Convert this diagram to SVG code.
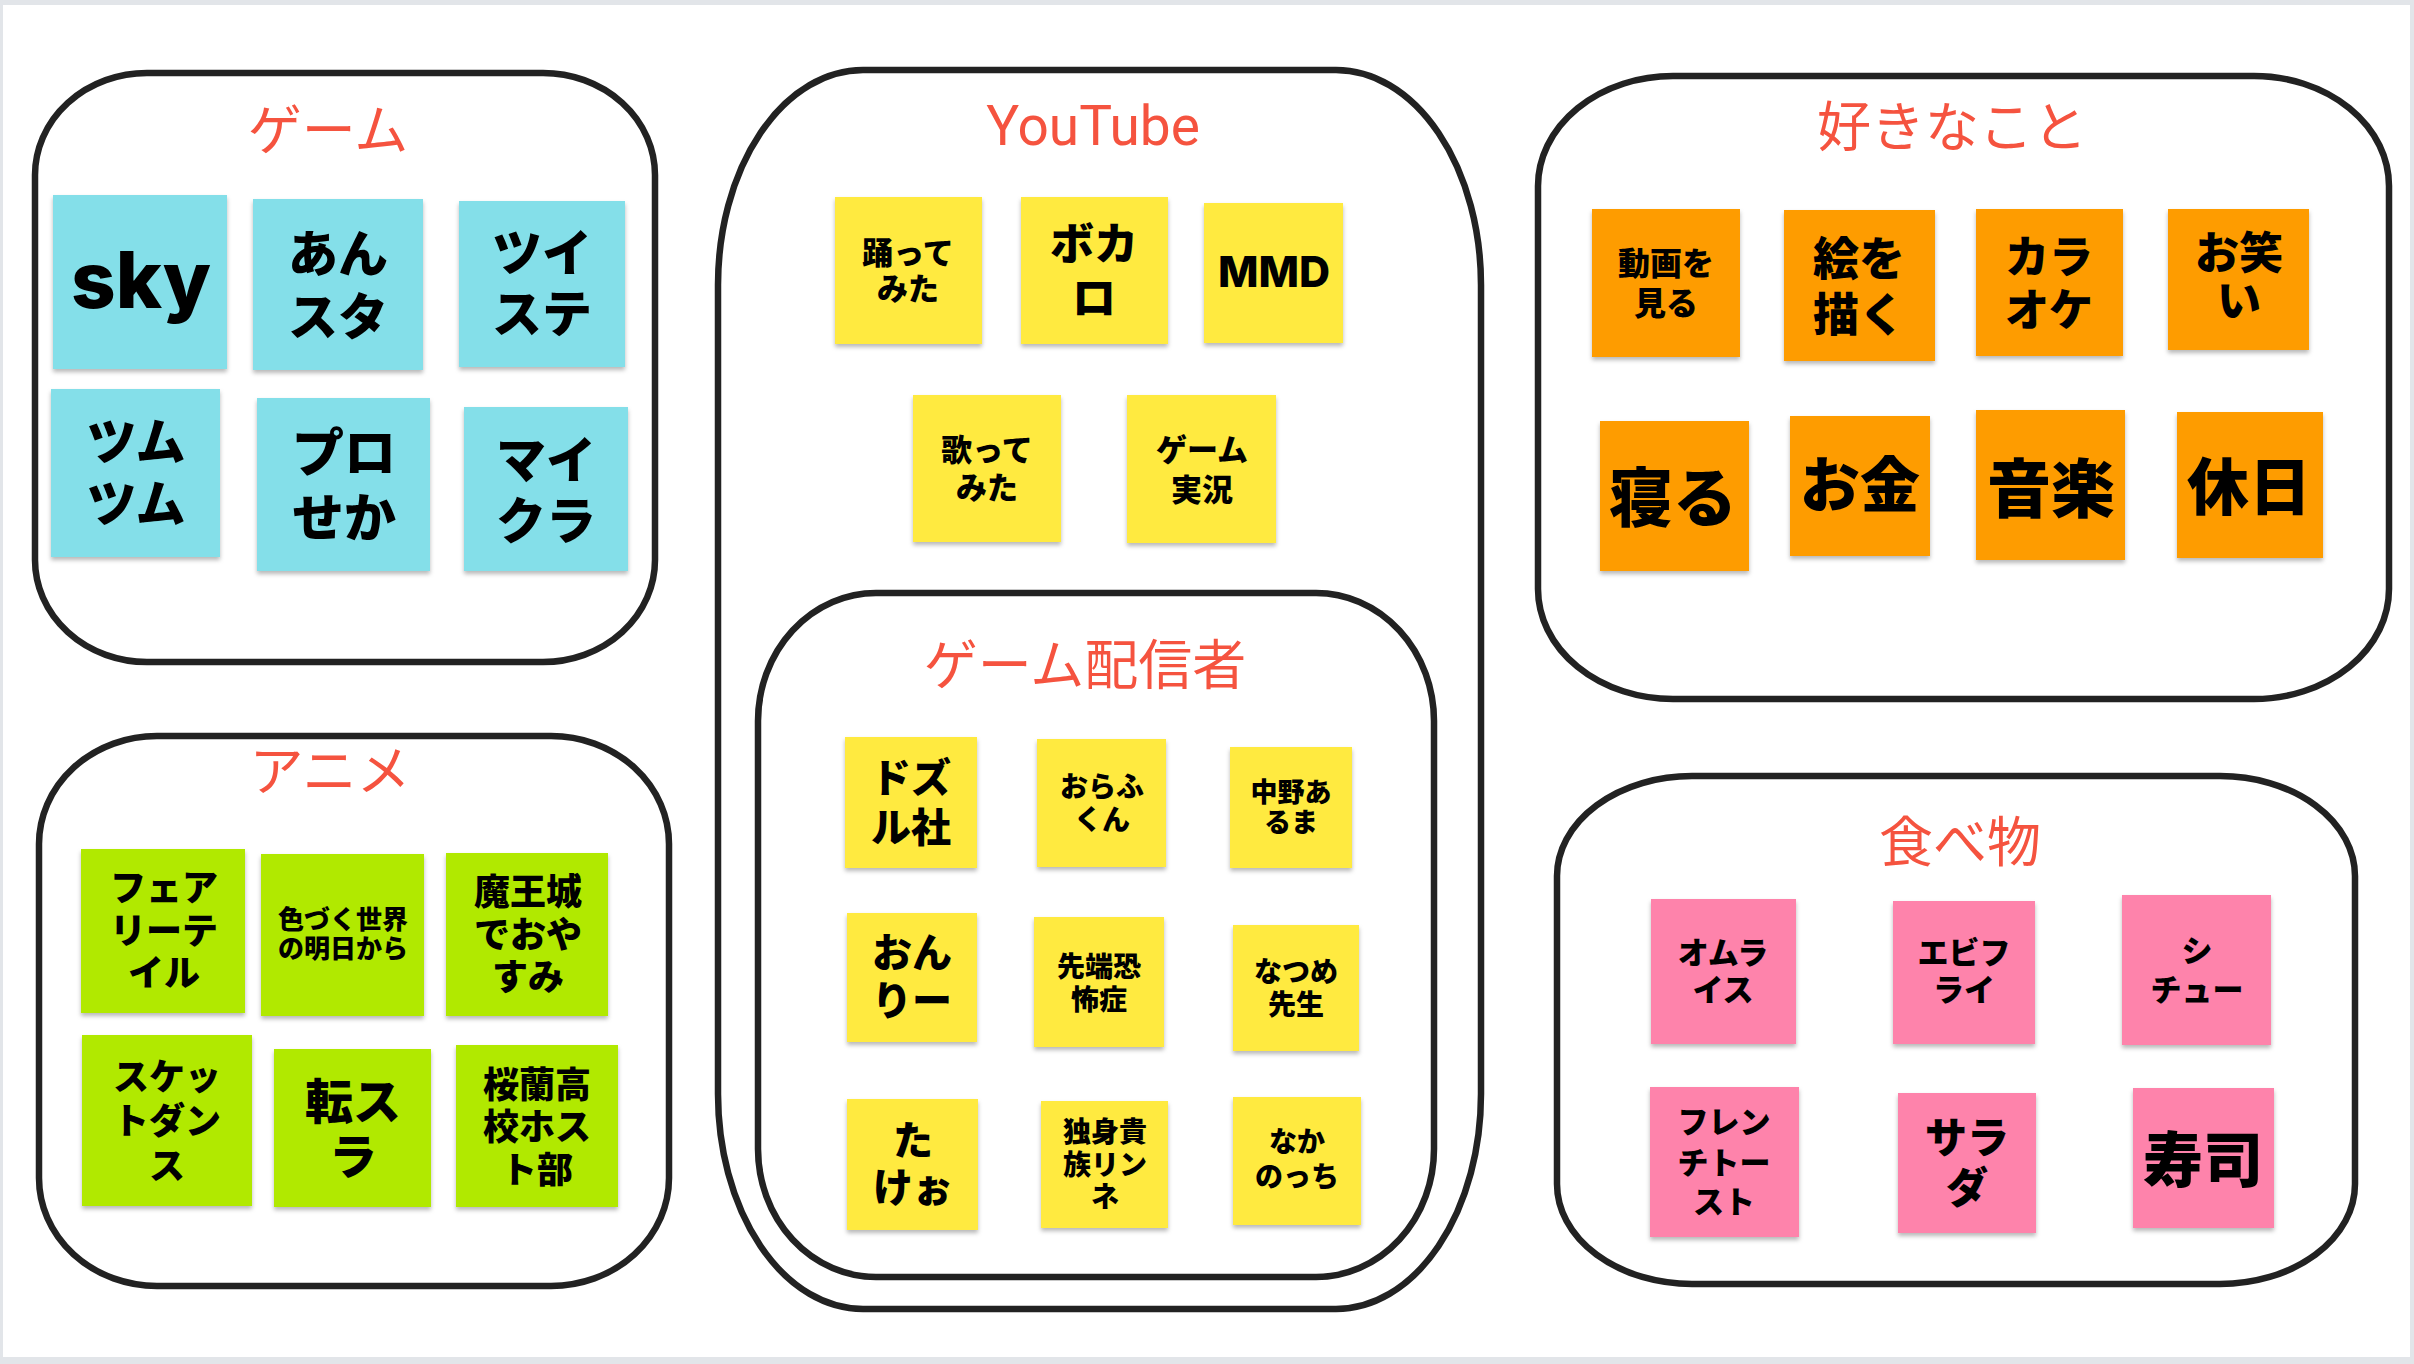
<svg xmlns="http://www.w3.org/2000/svg" width="2414" height="1364" viewBox="0 0 2414 1364">
<defs>
<filter id="sh" x="-10%" y="-10%" width="120%" height="125%">
<feDropShadow dx="0" dy="3" stdDeviation="2" flood-color="#000" flood-opacity="0.28"/>
</filter>
<style>
.box{fill:#fff;stroke:#222;stroke-width:6.5}
.ttl{font-family:"Noto Sans CJK JP","Noto Sans",sans-serif;font-weight:400;fill:#f5533f;text-anchor:middle}
.yt{font-family:Roboto,"Liberation Sans",sans-serif;font-weight:400;fill:#f5533f;text-anchor:middle}
.t{font-family:"Noto Sans CJK JP","Noto Sans",sans-serif;font-weight:900;fill:#000;text-anchor:middle}
.lat{font-family:Inter,"Liberation Sans",sans-serif;font-weight:800;fill:#000;text-anchor:middle}
.c{fill:#84dfe9;filter:url(#sh)}
.g{fill:#b1e903;filter:url(#sh)}
.y{fill:#ffea3f;filter:url(#sh)}
.o{fill:#fe9c05;filter:url(#sh)}
.p{fill:#fe83ab;filter:url(#sh)}
</style>
</defs>
<rect x="0" y="0" width="2414" height="1364" fill="#e2e5e9"/>
<rect x="3" y="5" width="2407" height="1352" fill="#fff"/>

<g id="containers">
<g id="box-game"><rect class="box" x="35" y="73" width="620" height="589" rx="112" ry="102"/><text class="ttl" x="328" y="150" font-size="54">ゲーム</text></g>
<g id="box-anime"><rect class="box" x="39" y="736" width="630" height="550" rx="118" ry="108"/><text class="ttl" x="330" y="791" font-size="54">アニメ</text></g>
<g id="box-youtube"><rect class="box" x="718" y="70" width="763" height="1239" rx="145" ry="215"/><text class="yt" x="1093" y="145" font-size="55">YouTube</text></g>
<g id="box-streamers"><rect class="box" x="758" y="593" width="676" height="684" rx="118" ry="128"/><text class="ttl" x="1085" y="685" font-size="54">ゲーム配信者</text></g>
<g id="box-hobby"><rect class="box" x="1538" y="76" width="851" height="623" rx="135" ry="110"/><text class="ttl" x="1952" y="147" font-size="54">好きなこと</text></g>
<g id="box-food"><rect class="box" x="1557" y="776" width="798" height="508" rx="135" ry="100"/><text class="ttl" x="1960" y="862" font-size="54">食べ物</text></g>
</g>

<g id="connectors"></g>

<!-- Game -->
<g id="n-sky"><rect class="c" x="53" y="195" width="174" height="174"/><text class="lat" x="141" y="308" font-size="78">sky</text></g>
<g id="n-ansuta"><rect class="c" x="253" y="199" width="170" height="171"/><text class="t" x="338" font-size="50"><tspan x="338" y="272">あん</tspan><tspan x="338" y="335">スタ</tspan></text></g>
<g id="n-twisute"><rect class="c" x="459" y="201" width="166" height="166"/><text class="t" x="542" font-size="50"><tspan x="542" y="271">ツイ</tspan><tspan x="542" y="332">ステ</tspan></text></g>
<g id="n-tsumu"><rect class="c" x="51" y="389" width="169" height="168"/><text class="t" x="136" font-size="50"><tspan x="136" y="460">ツム</tspan><tspan x="136" y="522">ツム</tspan></text></g>
<g id="n-purosekai"><rect class="c" x="257" y="398" width="173" height="173"/><text class="t" x="344" font-size="52"><tspan x="344" y="472">プロ</tspan><tspan x="344" y="537">せか</tspan></text></g>
<g id="n-maikura"><rect class="c" x="464" y="407" width="164" height="164"/><text class="t" x="546" font-size="50"><tspan x="546" y="478">マイ</tspan><tspan x="546" y="539">クラ</tspan></text></g>

<!-- Anime -->
<g id="n-fairy"><rect class="g" x="81" y="849" width="164" height="164"/><text class="t" font-size="36"><tspan x="164" y="901">フェア</tspan><tspan x="164" y="944">リーテ</tspan><tspan x="164" y="986">イル</tspan></text></g>
<g id="n-irozuku"><rect class="g" x="261" y="854" width="163" height="162"/><text class="t" font-size="26"><tspan x="343" y="929">色づく世界</tspan><tspan x="343" y="958">の明日から</tspan></text></g>
<g id="n-maou"><rect class="g" x="446" y="853" width="162" height="163"/><text class="t" font-size="36"><tspan x="528" y="905">魔王城</tspan><tspan x="528" y="948">でおや</tspan><tspan x="528" y="990">すみ</tspan></text></g>
<g id="n-sket"><rect class="g" x="82" y="1035" width="170" height="171"/><text class="t" font-size="36"><tspan x="167" y="1090">スケッ</tspan><tspan x="167" y="1134">トダン</tspan><tspan x="167" y="1179">ス</tspan></text></g>
<g id="n-tensura"><rect class="g" x="274" y="1049" width="157" height="158"/><text class="t" font-size="48"><tspan x="353" y="1119">転ス</tspan><tspan x="353" y="1174">ラ</tspan></text></g>
<g id="n-ouran"><rect class="g" x="456" y="1045" width="162" height="162"/><text class="t" font-size="36"><tspan x="537" y="1098">桜蘭高</tspan><tspan x="537" y="1140">校ホス</tspan><tspan x="537" y="1183">ト部</tspan></text></g>

<!-- YouTube -->
<g id="n-odotte"><rect class="y" x="835" y="197" width="147" height="147"/><text class="t" font-size="31"><tspan x="908" y="264">踊って</tspan><tspan x="908" y="300">みた</tspan></text></g>
<g id="n-vocalo"><rect class="y" x="1021" y="197" width="147" height="147"/><text class="t" font-size="44"><tspan x="1094" y="260">ボカ</tspan><tspan x="1094" y="314">ロ</tspan></text></g>
<g id="n-mmd"><rect class="y" x="1204" y="203" width="139" height="140"/><text class="lat" x="1274" y="287" font-size="43">MMD</text></g>
<g id="n-utatte"><rect class="y" x="913" y="395" width="148" height="147"/><text class="t" font-size="31"><tspan x="987" y="461">歌って</tspan><tspan x="987" y="499">みた</tspan></text></g>
<g id="n-jikkyo"><rect class="y" x="1127" y="395" width="149" height="148"/><text class="t" font-size="31"><tspan x="1202" y="461">ゲーム</tspan><tspan x="1202" y="501">実況</tspan></text></g>

<!-- Streamers -->
<g id="n-dozuru"><rect class="y" x="845" y="737" width="132" height="131"/><text class="t" font-size="40"><tspan x="911" y="792">ドズ</tspan><tspan x="911" y="842">ル社</tspan></text></g>
<g id="n-orafu"><rect class="y" x="1037" y="739" width="129" height="128"/><text class="t" font-size="28"><tspan x="1102" y="797">おらふ</tspan><tspan x="1102" y="830">くん</tspan></text></g>
<g id="n-aruma"><rect class="y" x="1230" y="747" width="122" height="121"/><text class="t" font-size="27"><tspan x="1291" y="802">中野あ</tspan><tspan x="1291" y="832">るま</tspan></text></g>
<g id="n-onry"><rect class="y" x="847" y="913" width="130" height="129"/><text class="t" font-size="40"><tspan x="912" y="967">おん</tspan><tspan x="912" y="1015">りー</tspan></text></g>
<g id="n-sentan"><rect class="y" x="1034" y="917" width="130" height="130"/><text class="t" font-size="28"><tspan x="1099" y="977">先端恐</tspan><tspan x="1099" y="1010">怖症</tspan></text></g>
<g id="n-natsume"><rect class="y" x="1233" y="925" width="126" height="126"/><text class="t" font-size="28"><tspan x="1296" y="982">なつめ</tspan><tspan x="1296" y="1015">先生</tspan></text></g>
<g id="n-takeo"><rect class="y" x="847" y="1099" width="131" height="131"/><text class="t" font-size="40"><tspan x="913" y="1155">た</tspan><tspan x="913" y="1202">けぉ</tspan></text></g>
<g id="n-rinne"><rect class="y" x="1041" y="1101" width="127" height="127"/><text class="t" font-size="28"><tspan x="1105" y="1142">独身貴</tspan><tspan x="1105" y="1175">族リン</tspan><tspan x="1105" y="1207">ネ</tspan></text></g>
<g id="n-nakano"><rect class="y" x="1233" y="1097" width="128" height="128"/><text class="t" font-size="28"><tspan x="1297" y="1152">なか</tspan><tspan x="1297" y="1187">のっち</tspan></text></g>

<!-- Hobbies -->
<g id="n-douga"><rect class="o" x="1592" y="209" width="148" height="148"/><text class="t" font-size="32"><tspan x="1666" y="275">動画を</tspan><tspan x="1666" y="315">見る</tspan></text></g>
<g id="n-e"><rect class="o" x="1784" y="210" width="151" height="151"/><text class="t" font-size="46"><tspan x="1859" y="275">絵を</tspan><tspan x="1859" y="331">描く</tspan></text></g>
<g id="n-karaoke"><rect class="o" x="1976" y="209" width="147" height="147"/><text class="t" font-size="44"><tspan x="2049" y="273">カラ</tspan><tspan x="2049" y="326">オケ</tspan></text></g>
<g id="n-owarai"><rect class="o" x="2168" y="209" width="141" height="141"/><text class="t" font-size="44"><tspan x="2239" y="269">お笑</tspan><tspan x="2239" y="317">い</tspan></text></g>
<g id="n-neru"><rect class="o" x="1600" y="421" width="149" height="150"/><text class="t" x="1673" y="521" font-size="64">寝る</text></g>
<g id="n-okane"><rect class="o" x="1790" y="416" width="140" height="140"/><text class="t" x="1860" y="507" font-size="60">お金</text></g>
<g id="n-ongaku"><rect class="o" x="1976" y="410" width="149" height="150"/><text class="t" x="2051" y="512" font-size="64">音楽</text></g>
<g id="n-kyujitsu"><rect class="o" x="2177" y="412" width="146" height="146"/><text class="t" x="2249" y="510" font-size="62">休日</text></g>

<!-- Food -->
<g id="n-omurice"><rect class="p" x="1651" y="899" width="145" height="145"/><text class="t" font-size="31"><tspan x="1723" y="964">オムラ</tspan><tspan x="1723" y="1001">イス</tspan></text></g>
<g id="n-ebifry"><rect class="p" x="1893" y="901" width="142" height="143"/><text class="t" font-size="31"><tspan x="1964" y="964">エビフ</tspan><tspan x="1964" y="1001">ライ</tspan></text></g>
<g id="n-stew"><rect class="p" x="2122" y="895" width="149" height="150"/><text class="t" font-size="31"><tspan x="2197" y="962">シ</tspan><tspan x="2197" y="1001">チュー</tspan></text></g>
<g id="n-french"><rect class="p" x="1650" y="1087" width="149" height="150"/><text class="t" font-size="31"><tspan x="1724" y="1133">フレン</tspan><tspan x="1724" y="1174">チトー</tspan><tspan x="1724" y="1213">スト</tspan></text></g>
<g id="n-salad"><rect class="p" x="1898" y="1093" width="138" height="140"/><text class="t" font-size="42"><tspan x="1967" y="1153">サラ</tspan><tspan x="1967" y="1203">ダ</tspan></text></g>
<g id="n-sushi"><rect class="p" x="2133" y="1088" width="141" height="140"/><text class="t" x="2203" y="1182" font-size="60">寿司</text></g>
</svg>
